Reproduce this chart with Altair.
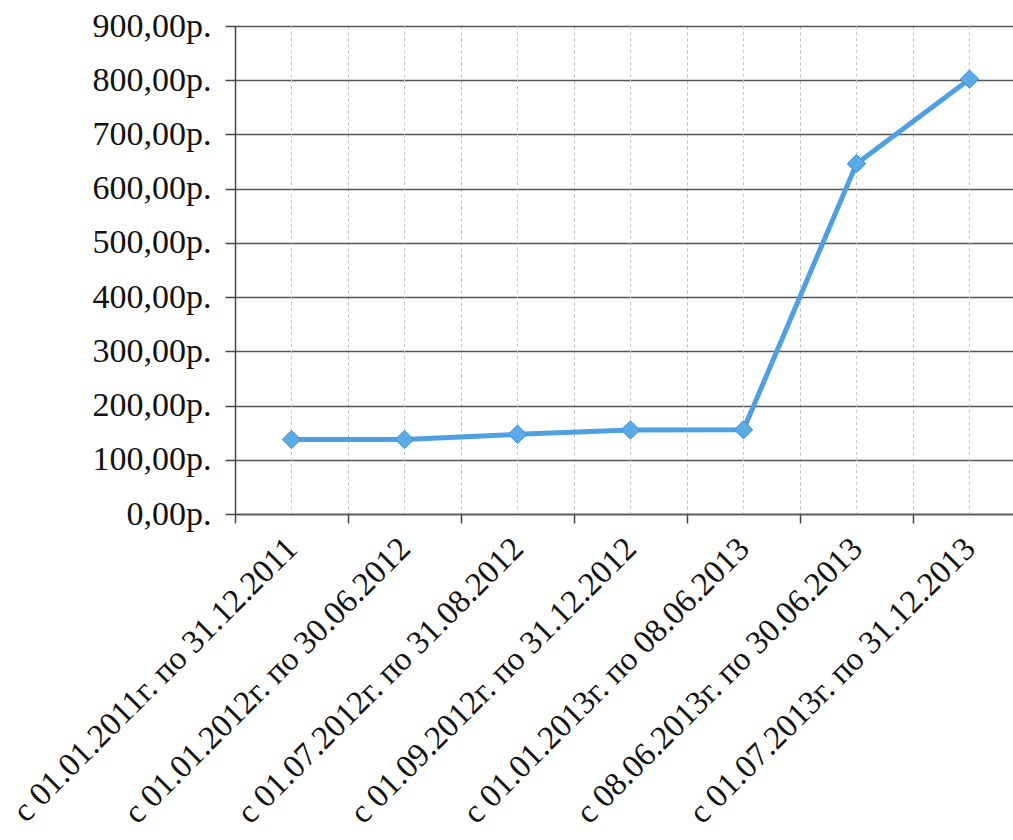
import altair as alt
import pandas as pd

periods = [
    "с 01.01.2011г. по 31.12.2011",
    "с 01.01.2012г. по 30.06.2012",
    "с 01.07.2012г. по 31.08.2012",
    "с 01.09.2012г. по 31.12.2012",
    "с 01.01.2013г. по 08.06.2013",
    "с 08.06.2013г. по 30.06.2013",
    "с 01.07.2013г. по 31.12.2013",
]
prices = [137.5, 137.5, 147.0, 155.0, 155.5, 646.0, 802.0]

df = pd.DataFrame({"period": periods, "price": prices})

FONT = "Liberation Serif"
W, H = 778, 488

x_enc = alt.X(
    "period:N",
    sort=periods,
    title=None,
    scale=alt.Scale(range=[0, 791], paddingInner=0, paddingOuter=0),
    axis=alt.Axis(
        labelAngle=-45,
        labelAlign="right",
        labelBaseline="middle",
        labelFont=FONT,
        labelFontSize=33,
        labelColor="#111111",
        labelPadding=20,
        labelLimit=0,
        labelOverlap=False,
        tickBand="extent",
        tickSize=9,
        tickColor="#444444",
        tickWidth=1.5,
        domainColor="#555555",
        domainWidth=1.5,
        grid=True,
        gridColor="#bbbbbb",
        gridDash=[3, 3],
        gridWidth=1,
    ),
)

y_enc = alt.Y(
    "price:Q",
    title=None,
    scale=alt.Scale(domain=[0, 900], nice=False),
    axis=alt.Axis(
        values=[0, 100, 200, 300, 400, 500, 600, 700, 800, 900],
        labelExpr="replace(format(datum.value, '.2f'), '.', ',') + 'р.'",
        labelFont=FONT,
        labelFontSize=34,
        labelColor="#111111",
        labelPadding=14,
        tickSize=10,
        tickColor="#444444",
        tickWidth=1.5,
        domainColor="#444444",
        domainWidth=1.5,
        gridColor="#555555",
        gridWidth=1.5,
    ),
)

mid_grid = alt.Chart(df).mark_rule(color="#c4c4c4", strokeDash=[3, 3], strokeWidth=1).encode(
    x=x_enc,
    y=alt.value(0),
    y2=alt.value(H),
)

line = alt.Chart(df).mark_line(color="#4f9fe3", strokeWidth=5).encode(x=x_enc, y=y_enc)
pts = alt.Chart(df).mark_point(
    shape="diamond", filled=True, size=340, color="#5aaae8", stroke="#3f8fd6", strokeWidth=1, opacity=1
).encode(x=x_enc, y=y_enc)

chart = (
    alt.layer(mid_grid, line, pts)
    .properties(
        width=W,
        height=H,
        autosize=alt.AutoSizeParams(type="none"),
        padding={"left": 235, "top": 26, "right": 0, "bottom": 326},
    )
    .configure_view(stroke=None)
    .configure_axis(labelFont=FONT)
    .configure(background="white", font=FONT)
)

chart.save("out.html", embed_options={"renderer": "svg", "actions": False})
